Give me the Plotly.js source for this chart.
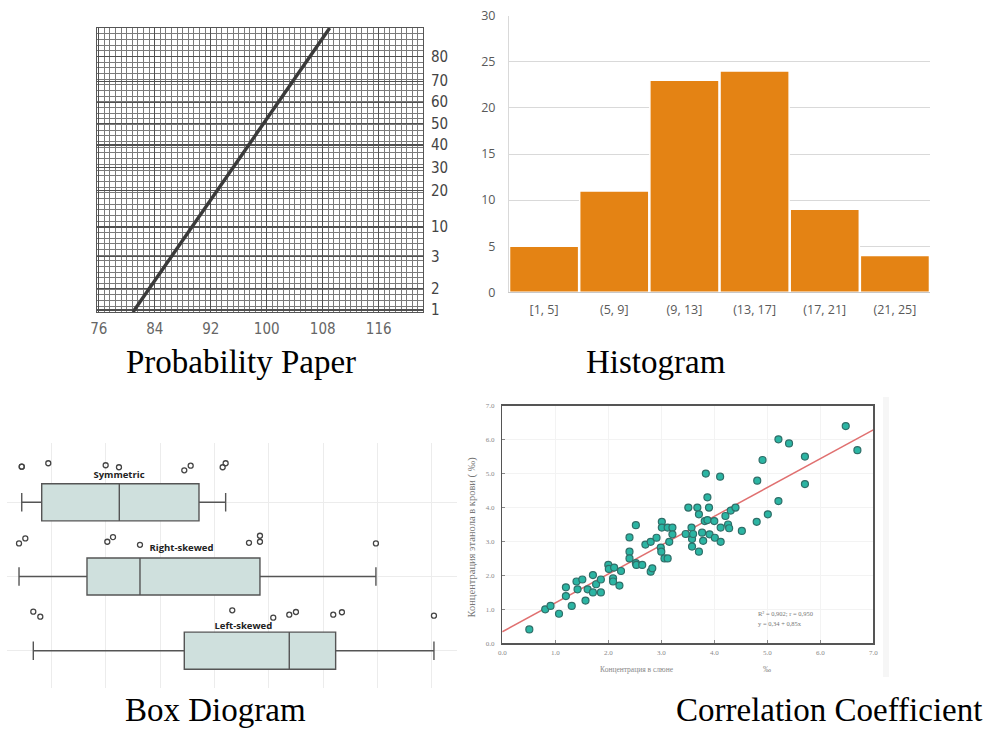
<!DOCTYPE html>
<html><head><meta charset="utf-8">
<script src="https://cdn.plot.ly/plotly-3.0.1.min.js"></script>
<style>html,body{margin:0;padding:0;background:#fff;overflow:hidden;}</style>
</head><body><div id="chart" style="width:993px;height:731px;"></div>
<script>
const W = 993, H = 731;

// ---------- Panel 1: probability paper ----------
const probLineX = [80.9, 109.0];
const probLineY = [0, 100];
const probYTickVals = [0.7, 8.3, 19.5, 29.9, 42.8, 50.8, 58.8, 66.4, 73.9, 81.3, 89.9];
const probYTickText = ['1', '2', '3', '10', '20', '30', '40', '50', '60', '70', '80'];
const probXTickVals = [76, 84, 92, 100, 108, 116];

// ---------- Panel 2: histogram ----------
const histBins = ['[1, 5]', '(5, 9]', '(9, 13]', '(13, 17]', '(17, 21]', '(21, 25]'];
const histCounts = [5, 11, 23, 24, 9, 4];

// ---------- Panel 3: box diagram ----------
const boxNames = ['Symmetric', 'Right-skewed', 'Left-skewed'];
const boxRows = [0, 1, 2];
const boxLower = [4.48, 3.98, 6.61];
const boxQ1 = [8.16, 16.50, 34.42];
const boxMedian = [22.45, 26.26, 53.76];
const boxQ3 = [37.13, 48.36, 62.30];
const boxUpper = [42.04, 69.72, 80.41];
const boxLabelX = [22.4, 33.9, 45.3];
const boxLabelY = [-0.36, 0.62, 1.68];
const boxPtsX = [4.48, 4.48, 9.37, 19.94, 22.39, 34.42, 35.60, 41.49, 42.04,
                 3.98, 5.14, 20.24, 21.29, 26.26, 46.34, 48.36, 48.36, 69.72,
                 6.61, 7.90, 43.26, 50.81, 53.76, 54.99, 61.86, 63.46, 80.41];
const boxPtsY = [-0.48, -0.48, -0.526, -0.499, -0.472, -0.431, -0.493, -0.472, -0.526,
                 0.554, 0.487, 0.532, 0.469, 0.573, 0.546, 0.532, 0.451, 0.554,
                 1.474, 1.542, 1.456, 1.555, 1.515, 1.479, 1.515, 1.482, 1.528];

// ---------- Panel 4: correlation ----------
const corrX = [0.51,0.81,0.91,1.07,1.20,1.20,1.31,1.40,1.42,1.51,1.57,1.61,1.71,1.71,1.77,1.86,1.86,
  2.00,2.01,2.09,2.09,2.11,2.21,2.24,2.40,2.40,2.40,2.52,2.52,2.53,2.64,2.70,2.80,2.80,2.83,2.91,
  2.99,3.00,3.01,3.01,3.06,3.12,3.12,3.15,3.21,3.21,3.46,3.51,3.57,3.58,3.58,3.60,3.68,3.71,3.71,
  3.77,3.79,3.82,3.84,3.87,3.87,3.90,3.91,4.00,4.01,4.11,4.12,4.12,4.21,4.26,4.28,4.31,4.40,4.52,
  4.80,4.81,4.91,5.01,5.21,5.21,5.41,5.71,5.71,6.48,6.70];
const corrY = [0.41,1.00,1.10,0.87,1.65,1.39,1.10,1.82,1.59,1.88,1.26,1.59,2.01,1.50,1.74,1.88,1.50,
  2.31,2.19,1.91,1.82,2.23,1.70,2.13,3.12,2.70,2.50,3.48,2.36,2.31,2.31,2.91,2.99,2.11,2.21,3.11,
  2.82,2.70,3.58,3.41,2.50,2.50,3.41,2.99,3.41,3.21,3.22,4.00,3.41,3.07,2.85,3.22,4.00,3.80,2.70,
  3.26,3.02,3.60,5.00,3.63,4.30,4.00,3.21,3.60,3.11,4.91,3.41,2.99,3.75,3.50,3.39,3.91,4.00,3.31,
  3.58,4.79,5.40,3.80,4.19,6.01,5.89,5.50,4.69,6.40,5.69];
const regIntercept = 0.34, regSlope = 0.85;
const regX = [0, 7];
const regY = regX.map(x => regIntercept + regSlope * x);

// helpers: pixel -> paper domain
const dx = (a, b) => [a / W, b / W];
const dy = (top, bottom) => [1 - bottom / H, 1 - top / H];
const px = v => v / W, py = v => 1 - v / H;

const narrow = 'DejaVu Sans Condensed, Liberation Sans Narrow, Liberation Sans, sans-serif';
const serif = 'Liberation Serif, Times New Roman, serif';

const traces = [
  { type: 'scatter', mode: 'lines', x: probLineX, y: probLineY, xaxis: 'x', yaxis: 'y',
    line: { color: '#3a3a3a', width: 3.4 }, hoverinfo: 'skip', showlegend: false },

  { type: 'bar', x: histBins, y: histCounts, xaxis: 'x2', yaxis: 'y2',
    marker: { color: '#E48314', line: { color: '#ffffff', width: 1.5 } },
    hoverinfo: 'skip', showlegend: false },

  { type: 'box', orientation: 'h', y: boxRows, q1: boxQ1, median: boxMedian, q3: boxQ3,
    lowerfence: boxLower, upperfence: boxUpper, xaxis: 'x3', yaxis: 'y3',
    width: 0.5, whiskerwidth: 0.5, fillcolor: '#cfe0dd', line: { color: '#555555', width: 1.4 },
    boxpoints: false, hoverinfo: 'skip', showlegend: false },
  { type: 'scatter', mode: 'markers', x: boxPtsX, y: boxPtsY, xaxis: 'x3', yaxis: 'y3',
    marker: { symbol: 'circle-open', size: 5, color: '#444444', line: { width: 1.3 } },
    hoverinfo: 'skip', showlegend: false },
  { type: 'scatter', mode: 'text', x: boxLabelX, y: boxLabelY, text: boxNames, xaxis: 'x3', yaxis: 'y3',
    textfont: { family: 'Open Sans, sans-serif', size: 9.5, color: '#222', weight: 'bold' },
    hoverinfo: 'skip', showlegend: false },

  { type: 'scatter', mode: 'lines', x: regX, y: regY, xaxis: 'x4', yaxis: 'y4',
    line: { color: '#e07070', width: 1.5 }, hoverinfo: 'skip', showlegend: false },
  { type: 'scatter', mode: 'markers', x: corrX, y: corrY, xaxis: 'x4', yaxis: 'y4',
    marker: { size: 7, color: '#2bb5a3', line: { color: '#2f6f69', width: 1.2 } },
    hoverinfo: 'skip', showlegend: false }
];

const capFont = { family: serif, size: 33, color: '#000' };

const layout = {
  width: W, height: H, margin: { l: 0, r: 0, t: 0, b: 0 },
  paper_bgcolor: '#ffffff', plot_bgcolor: 'rgba(0,0,0,0)', showlegend: false,
  bargap: 0.015,

  xaxis: { domain: dx(96.7, 423), anchor: 'y', range: [75.71, 122.33], tickvals: probXTickVals,
    showgrid: true, gridcolor: '#505050', gridwidth: 1.2,
    minor: { dtick: 0.8, tick0: 76, showgrid: true, gridcolor: '#7a7a7a', gridwidth: 1 },
    zeroline: false, showline: true, linecolor: '#555', mirror: true, ticks: '',
    ticklabelstandoff: 3, tickfont: { family: narrow, size: 15, color: '#666' } },
  yaxis: { domain: dy(28, 312), anchor: 'x', range: [0, 100], side: 'right',
    tickvals: probYTickVals, ticktext: probYTickText,
    showgrid: true, gridcolor: '#505050', gridwidth: 1.2,
    minor: { dtick: 2, tick0: 0, showgrid: true, gridcolor: '#7a7a7a', gridwidth: 1 },
    zeroline: false, showline: true, linecolor: '#555', mirror: true, ticks: '',
    ticklabelstandoff: 4, tickfont: { family: narrow, size: 15, color: '#444' } },

  xaxis2: { domain: dx(509, 930), anchor: 'y2', type: 'category', range: [-0.5, 5.5],
    showgrid: false, showline: true, linecolor: '#c8c8c8', ticks: '', zeroline: false,
    ticklabelstandoff: 6, tickfont: { family: 'Open Sans, sans-serif', size: 12.5, color: '#595959' } },
  yaxis2: { domain: dy(15.7, 292.3), anchor: 'x2', range: [0, 30], dtick: 5,
    gridcolor: '#d9d9d9', gridwidth: 1, showline: true, linecolor: '#d9d9d9', zeroline: false, ticks: '',
    ticklabelstandoff: 10, tickfont: { family: 'Open Sans, sans-serif', size: 12.5, color: '#595959' } },

  xaxis3: { domain: dx(6.7, 456.7), anchor: 'y3', range: [1.71, 84.6],
    tickvals: [10, 20, 30, 40, 50, 60, 70, 80], showticklabels: false, ticks: '',
    gridcolor: '#ececec', gridwidth: 1, zeroline: false, showline: false },
  yaxis3: { domain: dy(442.7, 688), anchor: 'x3', range: [2.503, -0.803],
    tickvals: boxRows, showticklabels: false, ticks: '',
    gridcolor: '#ececec', gridwidth: 1, zeroline: false, showline: false },

  xaxis4: { domain: dx(502.3, 873.3), anchor: 'y4', range: [0, 7], dtick: 1, tickformat: '.1f',
    showline: true, mirror: true, linecolor: '#555', linewidth: 1.5,
    ticks: 'inside', ticklen: 3, tickcolor: '#888', gridcolor: '#f3f3f3', zeroline: false,
    ticklabelstandoff: 2, tickfont: { family: serif, size: 7, color: '#888' } },
  yaxis4: { domain: dy(405.7, 643.3), anchor: 'x4', range: [0, 7], dtick: 1, tickformat: '.1f',
    showline: true, mirror: true, linecolor: '#555', linewidth: 1.5,
    ticks: 'inside', ticklen: 3, tickcolor: '#888', gridcolor: '#f3f3f3', zeroline: false,
    ticklabelstandoff: 5, tickfont: { family: serif, size: 7, color: '#888' } },

  shapes: [
    { type: 'rect', xref: 'paper', yref: 'paper', x0: px(883), x1: px(889), y0: py(677), y1: py(397),
      fillcolor: '#f6f6f6', line: { width: 0 }, layer: 'below' }
  ],

  annotations: [
    { text: 'Probability Paper', x: px(241), y: py(362), xref: 'paper', yref: 'paper', showarrow: false,
      xanchor: 'center', yanchor: 'middle', font: capFont },
    { text: 'Histogram', x: px(655.5), y: py(362), xref: 'paper', yref: 'paper', showarrow: false,
      xanchor: 'center', yanchor: 'middle', font: capFont },
    { text: 'Box Diogram', x: px(215), y: py(730), xref: 'paper', yref: 'paper', showarrow: false,
      xanchor: 'center', yanchor: 'bottom', font: capFont },
    { text: 'Correlation Coefficient', x: px(829), y: py(730), xref: 'paper', yref: 'paper', showarrow: false,
      xanchor: 'center', yanchor: 'bottom', font: capFont },

    { text: 'Концентрация этанола в крови ( ‰)', x: px(471.5), y: py(537), xref: 'paper', yref: 'paper',
      showarrow: false, textangle: -90, xanchor: 'center', yanchor: 'middle',
      font: { family: serif, size: 10.5, color: '#777' } },
    { text: 'Концентрация в слюне', x: px(637), y: py(669), xref: 'paper', yref: 'paper',
      showarrow: false, xanchor: 'center', yanchor: 'middle', font: { family: serif, size: 7.5, color: '#888' } },
    { text: '‰', x: px(767), y: py(669), xref: 'paper', yref: 'paper',
      showarrow: false, xanchor: 'center', yanchor: 'middle', font: { family: serif, size: 8, color: '#888' } },
    { text: 'R² = 0,902; r = 0,950', x: px(756), y: py(613), xref: 'paper', yref: 'paper',
      showarrow: false, xanchor: 'left', yanchor: 'middle', font: { family: serif, size: 6.5, color: '#777' } },
    { text: 'y = 0,34 + 0,85x', x: px(756), y: py(623), xref: 'paper', yref: 'paper',
      showarrow: false, xanchor: 'left', yanchor: 'middle', font: { family: serif, size: 6.5, color: '#777' } }
  ]
};

Plotly.newPlot('chart', traces, layout, { staticPlot: true, displayModeBar: false });
</script>
</body></html>
